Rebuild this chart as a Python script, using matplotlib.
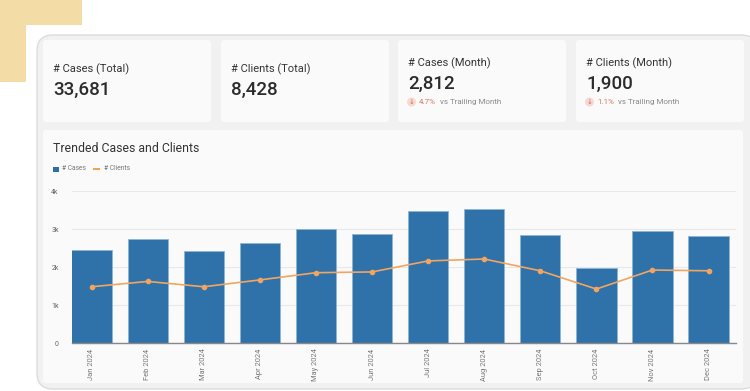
import matplotlib.pyplot as plt
from matplotlib.patches import FancyBboxPatch, Rectangle, Ellipse
import numpy as np

plt.rcParams['font.family'] = ['Roboto', 'DejaVu Sans']

# Data
months = ['Jan 2024', 'Feb 2024', 'Mar 2024', 'Apr 2024', 'May 2024', 'Jun 2024',
          'Jul 2024', 'Aug 2024', 'Sep 2024', 'Oct 2024', 'Nov 2024', 'Dec 2024']
cases = [2460, 2730, 2410, 2640, 3000, 2870, 3463, 3530, 2830, 1985, 2951, 2812]
clients = [1480, 1620, 1480, 1660, 1850, 1870, 2160, 2210, 1900, 1420, 1921, 1900]
y_ticks = [0, 1000, 2000, 3000, 4000]
y_labels = ['0', '1k', '2k', '3k', '4k']

kpi_titles = ['# Cases (Total)', '# Clients (Total)', '# Cases (Month)', '# Clients (Month)']
kpi_values = ['33,681', '8,428', '2,812', '1,900']
kpi_deltas = [None, None, '4.7%', '1.1%']

W, H = 750, 391
fig = plt.figure(figsize=(W / 100, H / 100), dpi=100)
fig.patch.set_facecolor('white')


def fx(x):
    return x / W


def fy(y):
    return 1 - y / H


def card(x, y, w, h, face, edge='none', r=4, lw=0.8):
    p = FancyBboxPatch((fx(x), fy(y + h)), w / W, h / H,
                       boxstyle=f'round,pad=0,rounding_size={r / W}',
                       transform=fig.transFigure, facecolor=face, edgecolor=edge,
                       linewidth=lw, mutation_aspect=W / H)
    fig.patches.append(p)


# gold decoration
fig.patches.append(Rectangle((0, fy(25)), fx(82), 25 / H, transform=fig.transFigure,
                             facecolor='#F3DCA6', edgecolor='none'))
fig.patches.append(Rectangle((0, fy(82)), fx(26), 82 / H, transform=fig.transFigure,
                             facecolor='#F3DCA6', edgecolor='none'))

# outer panel
card(37, 35, 720, 354, '#F1F1F1', edge='#DCDCDC', r=16, lw=1.0)

# KPI cards
kpi_x = [43, 221, 398, 576]
for i, x0 in enumerate(kpi_x):
    card(x0, 40, 168, 82, '#FAFAFA', r=3)
    if kpi_deltas[i] is None:
        fig.text(fx(x0 + 10), fy(69), kpi_titles[i], fontsize=8, color='#333333',
                 va='center', ha='left')
        fig.text(fx(x0 + 10), fy(90), kpi_values[i], fontsize=13.5, color='#2b2b2b',
                 va='center', ha='left', fontweight='medium')
    else:
        fig.text(fx(x0 + 10), fy(63), kpi_titles[i], fontsize=8, color='#333333',
                 va='center', ha='left')
        fig.text(fx(x0 + 10), fy(84), kpi_values[i], fontsize=13.5, color='#2b2b2b',
                 va='center', ha='left', fontweight='medium')
        fig.patches.append(Ellipse((fx(x0 + 13.5), fy(102)), 9 / W, 9 / H,
                                   transform=fig.transFigure,
                                   facecolor='#F6D9D2', edgecolor='none'))
        fig.text(fx(x0 + 13.5), fy(102), '↓', fontsize=5, color='#D06A55',
                 va='center', ha='center', family='DejaVu Sans')
        fig.text(fx(x0 + 21), fy(102), kpi_deltas[i], fontsize=5.8, color='#D27A66',
                 va='center', ha='left')
        fig.text(fx(x0 + 42), fy(102), 'vs Trailing Month', fontsize=5.8, color='#8a8a8a',
                 va='center', ha='left')

# chart card
card(43, 130, 700, 253, '#FAFAFA', r=3)
fig.text(fx(53), fy(149), 'Trended Cases and Clients', fontsize=8.8, color='#333333',
         va='center', ha='left')

# legend
fig.patches.append(Rectangle((fx(53), fy(172)), 5.5 / W, 5.5 / H, transform=fig.transFigure,
                             facecolor='#2F6FA8', edgecolor='none'))
fig.text(fx(62), fy(169), '# Cases', fontsize=4.8, color='#777777', va='center', ha='left')
fig.lines.append(plt.Line2D([fx(94), fx(99)], [fy(169), fy(169)], transform=fig.transFigure,
                            color='#F0A25A', linewidth=1.5))
fig.text(fx(104), fy(169), '# Clients', fontsize=4.8, color='#777777', va='center', ha='left')

# main axes
ax = fig.add_axes([fx(72), fy(343), (736 - 72) / W, (343 - 191) / H])
ax.set_zorder(10)
ax.set_facecolor('none')
x = np.arange(len(months))
ax.bar(x, cases, width=0.72, color='#2F72AA', edgecolor='#8FB3D3', linewidth=0.6, zorder=2)
ax.plot(x, clients, color='#F2A561', linewidth=1.2, marker='o', markersize=3, zorder=3)

ax.set_xlim(-0.35, 11.49)
ax.set_ylim(0, 4000)
ax.set_yticks(y_ticks)
ax.set_yticklabels(y_labels)
ax.set_xticks(x)
ax.set_xticklabels(months, rotation=90)
ax.tick_params(axis='y', length=0, labelsize=5, labelcolor='#666666', pad=9.5)
ax.tick_params(axis='x', length=0, labelsize=5.4, labelcolor='#777777', pad=4)
ax.grid(axis='y', color='#E8E8E8', linewidth=0.8, zorder=0)
ax.set_axisbelow(True)
for s in ['top', 'right', 'left']:
    ax.spines[s].set_visible(False)
ax.spines['bottom'].set_color('#888888')
ax.spines['bottom'].set_linewidth(1.0)
ax.spines['bottom'].set_zorder(4)

fig.savefig('out.png', dpi=100)
